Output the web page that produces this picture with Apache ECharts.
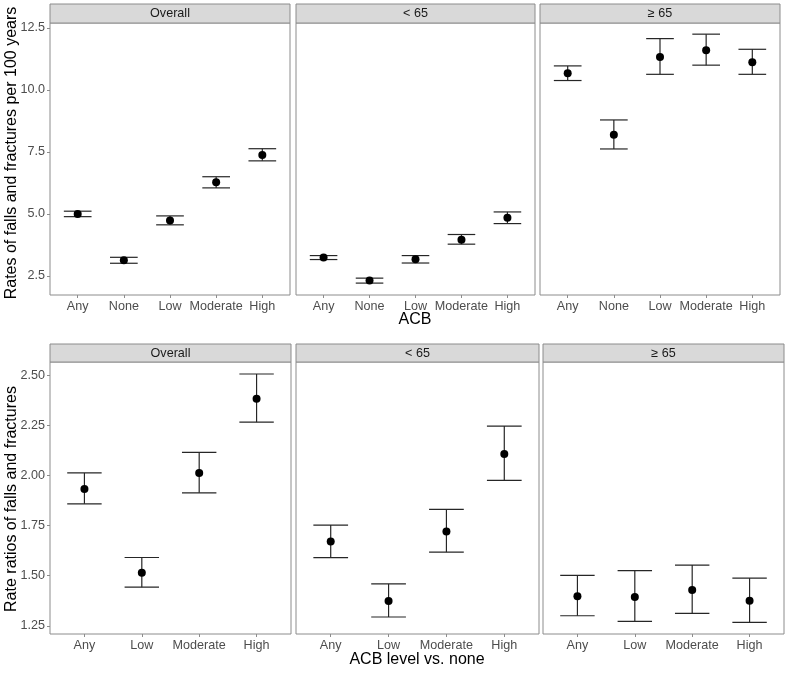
<!DOCTYPE html>
<html>
<head>
<meta charset="utf-8">
<script src="https://cdn.jsdelivr.net/npm/echarts@6/dist/echarts.min.js"></script>
<style>html,body{margin:0;padding:0;background:#fff}#c{width:800px;height:679px}</style>
</head>
<body>
<div id="c"></div>
<script>
// ---------- data ----------
const topCats = ['Any', 'None', 'Low', 'Moderate', 'High'];
const botCats = ['Any', 'Low', 'Moderate', 'High'];
const facets = ['Overall', '< 65', '\u2265 65'];

// Rates of falls and fractures per 100 years
const rateOverallEst = [5.00, 3.13, 4.73, 6.28, 7.38];
const rateOverallLo  = [4.89, 3.01, 4.56, 6.05, 7.14];
const rateOverallHi  = [5.11, 3.25, 4.92, 6.50, 7.63];

const rateUnder65Est = [3.24, 2.31, 3.17, 3.96, 4.85];
const rateUnder65Lo  = [3.16, 2.21, 3.02, 3.78, 4.61];
const rateUnder65Hi  = [3.32, 2.41, 3.32, 4.17, 5.08];

const rateOver65Est = [10.67, 8.19, 11.33, 11.60, 11.12];
const rateOver65Lo  = [10.38, 7.62, 10.63, 11.00, 10.63];
const rateOver65Hi  = [10.97, 8.79, 12.07, 12.25, 11.64];

// Rate ratios vs none
const rrOverallEst = [1.933, 1.515, 2.013, 2.384];
const rrOverallLo  = [1.859, 1.443, 1.914, 2.267];
const rrOverallHi  = [2.013, 1.591, 2.116, 2.507];

const rrUnder65Est = [1.671, 1.374, 1.721, 2.108];
const rrUnder65Lo  = [1.590, 1.294, 1.618, 1.976];
const rrUnder65Hi  = [1.753, 1.459, 1.831, 2.247];

const rrOver65Est = [1.397, 1.394, 1.429, 1.375];
const rrOver65Lo  = [1.300, 1.272, 1.312, 1.267];
const rrOver65Hi  = [1.502, 1.525, 1.553, 1.488];

const topTicks = [2.5, 5.0, 7.5, 10.0, 12.5];
const botTicks = [1.25, 1.50, 1.75, 2.00, 2.25, 2.50];

// ---------- layout ----------
const FONT = '"Liberation Sans", Arial, sans-serif';
const topPanels = [[50, 290], [296, 535], [540, 780]];
const botPanels = [[50, 291], [296, 539], [543, 784]];
const topY = [23, 295];
const botY = [362, 634];
const stripTop = [4, 344];

const rows = [
  {cats: topCats, panels: topPanels, y: topY, min: 1.73, max: 12.70, ticks: topTicks, dec: 1,
   series: [[rateOverallEst, rateOverallLo, rateOverallHi], [rateUnder65Est, rateUnder65Lo, rateUnder65Hi], [rateOver65Est, rateOver65Lo, rateOver65Hi]]},
  {cats: botCats, panels: botPanels, y: botY, min: 1.209, max: 2.567, ticks: botTicks, dec: 2,
   series: [[rrOverallEst, rrOverallLo, rrOverallHi], [rrUnder65Est, rrUnder65Lo, rrUnder65Hi], [rrOver65Est, rrOver65Lo, rrOver65Hi]]}
];

const grids = [], xAxes = [], yAxes = [], series = [], graphics = [];
let gi = 0;
rows.forEach((row, r) => {
  row.panels.forEach((p, k) => {
    grids.push({left: p[0], width: p[1] - p[0], top: row.y[0], height: row.y[1] - row.y[0],
      show: true, borderColor: '#8c8c8c', borderWidth: 1, backgroundColor: '#fff', containLabel: false});
    const nCat = row.cats.length;
    const idxs = row.cats.map((_, i) => i);
    xAxes.push({type: 'value', gridIndex: gi, min: -0.6, max: nCat - 1 + 0.6, position: 'bottom',
      axisLine: {show: false, onZero: false},
      axisTick: {show: true, length: 3, lineStyle: {color: '#8c8c8c'}, customValues: idxs},
      axisLabel: {show: true, customValues: idxs, margin: 5, color: '#4d4d4d', fontSize: 12.6, fontFamily: FONT,
        formatter: v => row.cats[Math.round(v)]},
      splitLine: {show: false}});
    const first = k === 0;
    yAxes.push({type: 'value', gridIndex: gi, min: row.min, max: row.max, position: 'left',
      axisLine: {show: false, onZero: false},
      axisTick: {show: first, length: 3, lineStyle: {color: '#8c8c8c'}, customValues: row.ticks},
      axisLabel: {show: first, customValues: row.ticks, margin: 5, color: '#4d4d4d', fontSize: 12.6, fontFamily: FONT,
        formatter: v => v.toFixed(row.dec)},
      splitLine: {show: false}});
    const [est, lo, hi] = row.series[k];
    series.push({type: 'custom', xAxisIndex: gi, yAxisIndex: gi,
      data: idxs.map(i => [i, lo[i], hi[i]]),
      renderItem: (params, api) => {
        const x = api.value(0), l = api.value(1), h = api.value(2);
        const pl = api.coord([x, l]), ph = api.coord([x, h]);
        const a = api.coord([x - 0.3, l]), b = api.coord([x + 0.3, l]);
        const c = api.coord([x - 0.3, h]), d = api.coord([x + 0.3, h]);
        const st = {stroke: '#262626', lineWidth: 1.2};
        return {type: 'group', children: [
          {type: 'line', shape: {x1: pl[0], y1: pl[1], x2: ph[0], y2: ph[1]}, style: st},
          {type: 'line', shape: {x1: a[0], y1: a[1], x2: b[0], y2: b[1]}, style: st},
          {type: 'line', shape: {x1: c[0], y1: c[1], x2: d[0], y2: d[1]}, style: st}
        ]};
      }, z: 2});
    series.push({type: 'scatter', xAxisIndex: gi, yAxisIndex: gi, symbol: 'circle', symbolSize: 8,
      itemStyle: {color: '#000', opacity: 1}, data: idxs.map(i => [i, est[i]]), z: 3});
    // strip
    graphics.push({type: 'rect', shape: {x: p[0], y: stripTop[r], width: p[1] - p[0], height: row.y[0] - stripTop[r]},
      style: {fill: '#d9d9d9', stroke: '#8c8c8c', lineWidth: 1}});
    graphics.push({type: 'text', x: (p[0] + p[1]) / 2, y: (stripTop[r] + row.y[0]) / 2 + 0.5,
      style: {text: facets[k], fill: '#1a1a1a', font: '12.6px ' + FONT, textAlign: 'center', textVerticalAlign: 'middle'}});
    gi++;
  });
});

// axis titles
graphics.push({type: 'text', x: 12, y: 153, rotation: Math.PI / 2,
  style: {text: 'Rates of falls and fractures per 100 years', fill: '#000', font: '16px ' + FONT, textAlign: 'center', textVerticalAlign: 'middle'}});
graphics.push({type: 'text', x: 12, y: 499, rotation: Math.PI / 2,
  style: {text: 'Rate ratios of falls and fractures', fill: '#000', font: '16px ' + FONT, textAlign: 'center', textVerticalAlign: 'middle'}});
graphics.push({type: 'text', x: 415, y: 320,
  style: {text: 'ACB', fill: '#000', font: '16px ' + FONT, textAlign: 'center', textVerticalAlign: 'middle'}});
graphics.push({type: 'text', x: 417, y: 660,
  style: {text: 'ACB level vs. none', fill: '#000', font: '16px ' + FONT, textAlign: 'center', textVerticalAlign: 'middle'}});

const chart = echarts.init(document.getElementById('c'), null, {renderer: 'canvas'});
chart.setOption({
  animation: false,
  backgroundColor: '#fff',
  grid: grids, xAxis: xAxes, yAxis: yAxes, series: series,
  graphic: graphics
});
</script>
</body>
</html>
